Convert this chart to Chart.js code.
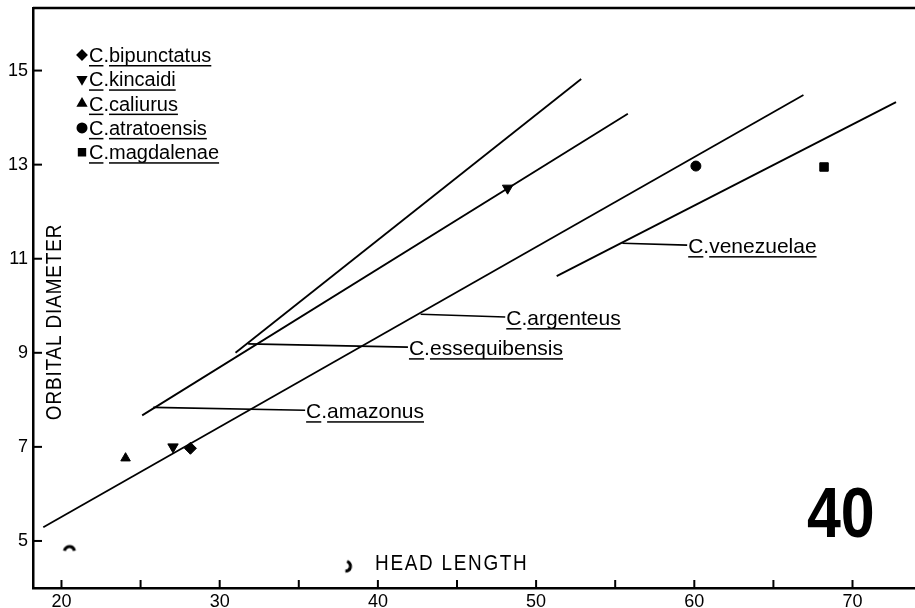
<!DOCTYPE html>
<html>
<head>
<meta charset="utf-8">
<script src="https://cdn.jsdelivr.net/npm/chart.js@4.4.0/dist/chart.umd.min.js"></script>
<style>
  html, body { margin: 0; padding: 0; background: #fff; }
  canvas { display: block; }
</style>
</head>
<body>
<canvas id="orbitChart" width="915" height="608"></canvas>
<script>
// Оси
const xMajorTicks = [20, 30, 40, 50, 60, 70];
const xMinorTicks = [25, 35, 45, 55, 65];
const yTicks = [5, 7, 9, 11, 13, 15];

// Линии регрессии (начало, конец)
const essequibensisX = [31.0, 52.85];
const essequibensisY = [9.0, 14.82];
const amazonusX = [25.1, 55.8];
const amazonusY = [7.67, 14.08];
const argenteusX = [18.85, 66.9];
const argenteusY = [5.29, 14.48];
const venezuelaeX = [51.3, 72.75];
const venezuelaeY = [10.63, 14.33];

// Точки
const bipunctatusX = [28.15];
const bipunctatusY = [6.97];
const kincaidiX = [27.05, 48.2];
const kincaidiY = [7.0, 12.5];
const caliuriusX = [24.05];
const caliuriusY = [6.76];
const atratoensisX = [60.1];
const atratoensisY = [12.97];
const magdalenaeX = [68.2];
const magdalenaeY = [12.95];

// Пятна скана
const strayX = [20.5, 38.2];
const strayY = [4.86, 4.45];

const legendNames = ['bipunctatus', 'kincaidi', 'caliurus', 'atratoensis', 'magdalenae'];
const legendStyles = [
    { pointStyle: 'rectRot', rotation: 0 },
    { pointStyle: 'triangle', rotation: 180 },
    { pointStyle: 'triangle', rotation: 0 },
    { pointStyle: 'circle', rotation: 0 },
    { pointStyle: 'rect', rotation: 0 }
];

const FONT = '"Liberation Sans", Arial, sans-serif';

function pts(xs, ys) {
    return xs.map((v, i) => ({ x: v, y: ys[i] }));
}

function lineSet(label, xs, ys) {
    return {
        label: label,
        data: pts(xs, ys),
        showLine: true,
        borderColor: '#000',
        borderWidth: 1.8,
        pointRadius: 0,
        pointHoverRadius: 0
    };
}

function pointSet(label, xs, ys, style, rotation, radius) {
    return {
        label: label,
        data: pts(xs, ys),
        pointStyle: style,
        rotation: rotation,
        pointRadius: radius,
        backgroundColor: '#000',
        borderColor: '#000',
        borderWidth: 1
    };
}

// полукруглое пятно
function strayGlyph() {
    const c = document.createElement('canvas');
    c.width = 16; c.height = 12;
    const g = c.getContext('2d');
    g.strokeStyle = '#000';
    g.lineWidth = 3;
    g.beginPath();
    g.arc(8, 10, 5, Math.PI * 1.05, Math.PI * 1.95);
    g.stroke();
    return c;
}

// подпись вида "C.name" с подчёркиванием
function speciesText(ctx, name, x, y) {
    ctx.textAlign = 'left';
    ctx.textBaseline = 'alphabetic';
    const wC = ctx.measureText('C').width;
    const wDot = ctx.measureText('.').width;
    const wN = ctx.measureText(name).width;
    ctx.fillText('C', x, y);
    ctx.fillText('.', x + wC, y);
    ctx.fillText(name, x + wC + wDot, y);
    ctx.fillRect(x, y + 3, wC, 1.5);
    ctx.fillRect(x + wC + wDot, y + 3, wN, 1.5);
}

// текст, сжатый по ширине
function narrowText(ctx, text, x, y, k) {
    ctx.save();
    ctx.translate(x, y);
    ctx.scale(k, 1);
    ctx.fillText(text, 0, 0);
    ctx.restore();
}

// выноски к линиям: от точки на линии до начала подписи (в координатах данных)
const leaders = [
    { name: 'amazonus', from: [25.8, 7.84], to: [35.4, 7.78] },
    { name: 'essequibensis', from: [31.8, 9.19], to: [41.9, 9.12] },
    { name: 'argenteus', from: [42.7, 9.82], to: [48.05, 9.76] },
    { name: 'venezuelae', from: [55.45, 11.33], to: [59.55, 11.29] }
];

const overlay = {
    id: 'overlay',
    afterDatasetsDraw(chart) {
        const { ctx, chartArea: a, scales: { x, y } } = chart;
        ctx.save();
        ctx.strokeStyle = '#000';
        ctx.fillStyle = '#000';

        // верхняя рамка
        ctx.lineWidth = 2.5;
        ctx.beginPath();
        ctx.moveTo(a.left, a.top);
        ctx.lineTo(a.right, a.top);
        ctx.stroke();

        // засечки внутрь
        ctx.lineWidth = 2;
        xMajorTicks.concat(xMinorTicks).forEach(v => {
            const px = x.getPixelForValue(v);
            ctx.beginPath();
            ctx.moveTo(px, a.bottom);
            ctx.lineTo(px, a.bottom - 8);
            ctx.stroke();
        });
        yTicks.forEach(v => {
            const py = y.getPixelForValue(v);
            ctx.beginPath();
            ctx.moveTo(a.left, py);
            ctx.lineTo(a.left + 9, py);
            ctx.stroke();
        });

        // подписи осей
        ctx.font = '22px ' + FONT;
        ctx.letterSpacing = '1px';
        ctx.textAlign = 'center';
        ctx.textBaseline = 'middle';
        ctx.save();
        ctx.translate(a.left + 22, 322);
        ctx.rotate(-Math.PI / 2);
        narrowText(ctx, 'ORBITAL DIAMETER', 0, 0, 0.86);
        ctx.restore();
        ctx.letterSpacing = '2px';
        ctx.textAlign = 'left';
        ctx.textBaseline = 'alphabetic';
        narrowText(ctx, 'HEAD LENGTH', 375, 570, 0.86);
        ctx.letterSpacing = '0px';

        // легенда
        ctx.font = '20px ' + FONT;
        legendNames.forEach((n, i) => {
            const by = 62 + i * 24.3;
            Chart.helpers.drawPoint(ctx, {
                pointStyle: legendStyles[i].pointStyle,
                rotation: legendStyles[i].rotation,
                radius: 4.5,
                borderWidth: 1
            }, 82, by - 7);
            ctx.fill();
            speciesText(ctx, n, 89, by);
        });

        // выноски
        ctx.font = '21px ' + FONT;
        ctx.lineWidth = 1.6;
        leaders.forEach(l => {
            const x1 = x.getPixelForValue(l.from[0]);
            const y1 = y.getPixelForValue(l.from[1]);
            const x2 = x.getPixelForValue(l.to[0]);
            const y2 = y.getPixelForValue(l.to[1]);
            ctx.beginPath();
            ctx.moveTo(x1, y1);
            ctx.lineTo(x2, y2);
            ctx.stroke();
            speciesText(ctx, l.name, x2 + 1, y2 + 8);
        });

        // номер рисунка
        ctx.font = 'bold 70px ' + FONT;
        ctx.textAlign = 'left';
        ctx.textBaseline = 'alphabetic';
        narrowText(ctx, '40', 807, 537, 0.87);
        ctx.restore();
    }
};

new Chart(document.getElementById('orbitChart'), {
    type: 'scatter',
    data: {
        datasets: [
            lineSet('C. essequibensis', essequibensisX, essequibensisY),
            lineSet('C. amazonus', amazonusX, amazonusY),
            lineSet('C. argenteus', argenteusX, argenteusY),
            lineSet('C. venezuelae', venezuelaeX, venezuelaeY),
            pointSet('C. bipunctatus', bipunctatusX, bipunctatusY, 'rectRot', 0, 6),
            pointSet('C. kincaidi', kincaidiX, kincaidiY, 'triangle', 180, 6),
            pointSet('C. caliurus', caliuriusX, caliuriusY, 'triangle', 0, 5.5),
            pointSet('C. atratoensis', atratoensisX, atratoensisY, 'circle', 0, 5),
            pointSet('C. magdalenae', magdalenaeX, magdalenaeY, 'rect', 0, 6),
            {
                label: 'stray',
                data: pts(strayX, strayY),
                pointStyle: [strayGlyph(), strayGlyph()],
                rotation: [0, 100],
                pointRadius: 6
            }
        ]
    },
    options: {
        responsive: false,
        animation: false,
        events: [],
        layout: { autoPadding: false, padding: { top: 8, right: 0, left: 0, bottom: 0 } },
        plugins: {
            legend: { display: false },
            tooltip: { enabled: false }
        },
        scales: {
            x: {
                type: 'linear',
                min: 18.2,
                max: 73.95,
                afterBuildTicks: s => { s.ticks = xMajorTicks.map(v => ({ value: v })); },
                afterFit: s => { s.height = 20; s.paddingLeft = 0; s.paddingRight = 0; },
                grid: { display: false, drawTicks: false },
                border: { display: true, color: '#000', width: 2.5 },
                ticks: {
                    color: '#000',
                    padding: 3,
                    maxRotation: 0,
                    autoSkip: false,
                    font: { family: FONT, size: 18 }
                }
            },
            y: {
                type: 'linear',
                min: 4,
                max: 16.33,
                afterBuildTicks: s => { s.ticks = yTicks.map(v => ({ value: v })); },
                afterFit: s => { s.width = 33; s.paddingTop = 0; s.paddingBottom = 0; },
                grid: { display: false, drawTicks: false },
                border: { display: true, color: '#000', width: 2.5 },
                ticks: {
                    color: '#000',
                    padding: 5,
                    autoSkip: false,
                    font: { family: FONT, size: 18 }
                }
            }
        }
    },
    plugins: [overlay]
});
</script>
</body>
</html>
